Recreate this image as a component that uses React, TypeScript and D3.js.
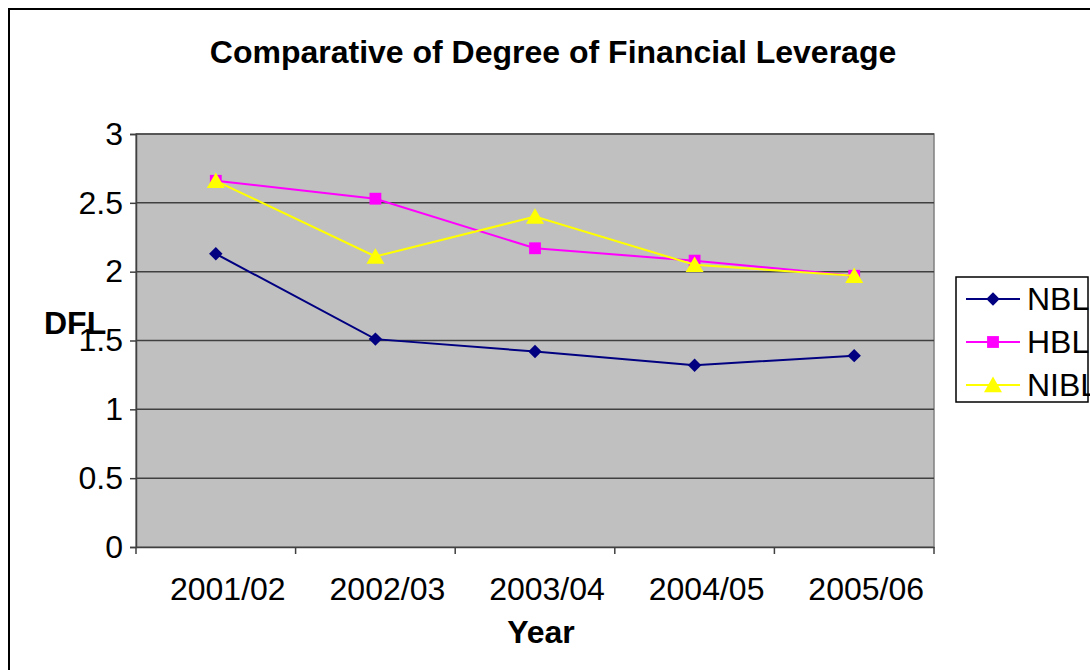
import React, { useEffect, useRef } from "react"
import * as d3 from "d3"

const years = ["2001/02", "2002/03", "2003/04", "2004/05", "2005/06"]
const nbl = [2.13, 1.51, 1.42, 1.32, 1.39]
const hbl = [2.66, 2.53, 2.17, 2.08, 1.97]
const nibl = [2.66, 2.11, 2.4, 2.05, 1.97]
const yTicks = [0, 0.5, 1, 1.5, 2, 2.5, 3]

const seriesNames = ["NBL", "HBL", "NIBL"]
const seriesColors = ["#000080", "#FF00FF", "#FFFF00"]
const seriesShapes = [d3.symbolSquare, d3.symbolSquare, d3.symbolTriangle]
const seriesSizes = [90, 140, 140]
const seriesRotate = [45, 0, 0]

const FONT = "'Liberation Sans', Arial, sans-serif"

const App = () => {
  const ref = useRef<SVGSVGElement>(null)

  useEffect(() => {
    const svg = d3.select(ref.current)
    svg.selectAll("*").remove()

    const w = 1090
    const h = 670
    const left = 136
    const right = 934
    const top = 134
    const bottom = 547

    // outer chart border (cropped at right and bottom)
    svg.append("rect").attr("x", 9).attr("y", 9).attr("width", w + 20).attr("height", h + 20)
      .attr("fill", "white").attr("stroke", "black").attr("stroke-width", 2)

    svg.append("text").attr("x", 553).attr("y", 63).attr("text-anchor", "middle")
      .attr("font-family", FONT).attr("font-size", 32).attr("font-weight", "bold")
      .text("Comparative of Degree of Financial Leverage")

    const x = d3.scaleBand().domain(years).range([left, right])
    const y = d3.scaleLinear().domain([0, 3]).range([bottom, top])

    svg.append("rect").attr("x", left).attr("y", top).attr("width", right - left).attr("height", bottom - top)
      .attr("fill", "#c0c0c0").attr("stroke", "#808080").attr("stroke-width", 1.5)

    svg.selectAll(".grid").data(yTicks.filter(d => d > 0)).enter().append("line")
      .attr("x1", left).attr("x2", right).attr("y1", d => y(d)).attr("y2", d => y(d))
      .attr("stroke", "#404040").attr("stroke-width", 1.5)

    // y axis
    const yAxis = svg.append("g").attr("transform", `translate(${left},0)`)
      .call(d3.axisLeft(y).tickValues(yTicks).tickSize(6).tickPadding(7).tickFormat(d3.format("")))
    yAxis.select(".domain").attr("stroke", "#404040").attr("stroke-width", 1.5)
    yAxis.selectAll(".tick line").attr("stroke", "#404040").attr("stroke-width", 1.5)
    yAxis.selectAll("text").attr("font-family", FONT).attr("font-size", 32).attr("fill", "black")

    // x axis
    const xAxis = svg.append("g").attr("transform", `translate(0,${bottom})`)
      .call(d3.axisBottom(x).tickSize(0).tickPadding(30))
    xAxis.select(".domain").attr("stroke", "#404040").attr("stroke-width", 1.5)
    xAxis.selectAll("text").attr("font-family", FONT).attr("font-size", 32).attr("fill", "black")
      .attr("dx", 12)
    const bounds = years.map(d => x(d) as number).concat([right])
    svg.selectAll(".xtick").data(bounds).enter().append("line")
      .attr("x1", d => d).attr("x2", d => d).attr("y1", bottom).attr("y2", bottom + 7)
      .attr("stroke", "#404040").attr("stroke-width", 1.5)

    svg.append("text").attr("x", 541).attr("y", 643).attr("text-anchor", "middle")
      .attr("font-family", FONT).attr("font-size", 32).attr("font-weight", "bold").text("Year")
    svg.append("text").attr("x", 44).attr("y", 334)
      .attr("font-family", FONT).attr("font-size", 32).attr("font-weight", "bold").text("DFL")

    const cx = (d: string) => (x(d) as number) + x.bandwidth() / 2
    const line = d3.line<number>().x((d, i) => cx(years[i])).y(d => y(d))
    const allSeries = [nbl, hbl, nibl]

    allSeries.forEach((vals, si) => {
      svg.append("path").datum(vals).attr("d", line).attr("fill", "none")
        .attr("stroke", seriesColors[si]).attr("stroke-width", 2)
      svg.selectAll(`.m${si}`).data(vals).enter().append("path")
        .attr("transform", (d, i) => `translate(${cx(years[i])},${y(d) + (si === 2 ? 2 : 0)}) rotate(${seriesRotate[si]})`)
        .attr("d", d3.symbol().type(seriesShapes[si]).size(seriesSizes[si]))
        .attr("fill", seriesColors[si])
    })

    // legend
    const lg = svg.append("g")
    lg.append("rect").attr("x", 956).attr("y", 277).attr("width", 132).attr("height", 125)
      .attr("fill", "white").attr("stroke", "black").attr("stroke-width", 1.5)
    seriesNames.forEach((name, si) => {
      const ly = 299 + si * 43
      lg.append("line").attr("x1", 966).attr("x2", 1020).attr("y1", ly).attr("y2", ly)
        .attr("stroke", seriesColors[si]).attr("stroke-width", 2)
      lg.append("path").attr("transform", `translate(993,${ly + (si === 2 ? 2 : 0)}) rotate(${seriesRotate[si]})`)
        .attr("d", d3.symbol().type(seriesShapes[si]).size(seriesSizes[si]))
        .attr("fill", seriesColors[si])
      lg.append("text").attr("x", 1027).attr("y", ly + 11)
        .attr("font-family", FONT).attr("font-size", 32).text(name)
    })
  }, [])

  return (
    <svg ref={ref} width={1090} height={670} style={{ position: "absolute", left: 0, top: 0 }} />
  )
}

export default App
